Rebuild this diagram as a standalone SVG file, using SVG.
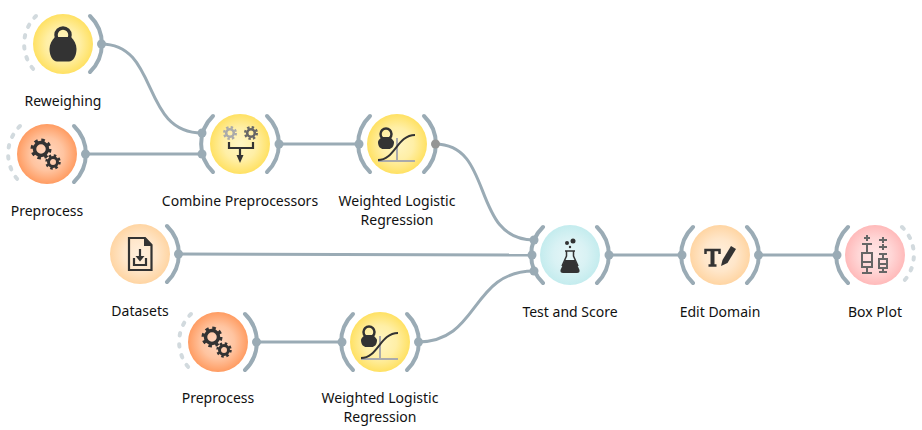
<svg xmlns="http://www.w3.org/2000/svg" xmlns:xlink="http://www.w3.org/1999/xlink" width="922" height="430" viewBox="0 0 922 430">
<style>
text{font-family:"Noto Sans","Open Sans","Liberation Sans",sans-serif;font-size:14px;fill:#111;text-anchor:middle}
.c{fill:none;stroke:#9aabb5;stroke-width:3}
.a{fill:none;stroke:#9aabb5;stroke-width:4;stroke-linecap:round}
.d{fill:none;stroke:#d2dade;stroke-width:4;stroke-linecap:round;stroke-dasharray:2.500 8.600}
.p{fill:#9aabb5}
.pg{fill:#959595}
.k{fill:#333}
.ks{fill:none;stroke:#333}
.gr{fill:none;stroke:#aaa}
.bx{fill:none;stroke:#666;stroke-width:2}
</style>
<defs>
<radialGradient id="y"><stop offset="0" stop-color="#fff6c4"/><stop offset=".55" stop-color="#ffefa6"/><stop offset="1" stop-color="#ffe163"/></radialGradient>
<radialGradient id="r"><stop offset="0" stop-color="#ffd9c2"/><stop offset=".55" stop-color="#ffc4a0"/><stop offset="1" stop-color="#ff9c62"/></radialGradient>
<radialGradient id="o"><stop offset="0" stop-color="#fff0de"/><stop offset=".55" stop-color="#ffe6c9"/><stop offset="1" stop-color="#ffd5a3"/></radialGradient>
<radialGradient id="b"><stop offset="0" stop-color="#e6f6f7"/><stop offset=".55" stop-color="#d9f2f4"/><stop offset="1" stop-color="#c4ecee"/></radialGradient>
<radialGradient id="s"><stop offset="0" stop-color="#ffe6e6"/><stop offset=".55" stop-color="#ffd6d6"/><stop offset="1" stop-color="#ffbaba"/></radialGradient>
<path id="ra" class="a" d="M27-28A39 39 0 0 1 27 28"/>
<path id="la" class="a" d="M-27-28A39 39 0 0 0-27 28"/>
<path id="ld" class="d" d="M-27-28A39 39 0 0 0-27 28"/>
<path id="rd" class="d" d="M27-28A39 39 0 0 1 27 28"/>
<g id="gears">
<circle cx="-6" cy="-5" r="6.500" class="ks" stroke-width="3.500"/>
<circle cx="-6" cy="-5" r="9" class="ks" stroke-width="3" stroke-dasharray="3.500 3.570"/>
<circle cx="6" cy="8" r="4.500" class="ks" stroke-width="3"/>
<circle cx="6" cy="8" r="6.500" class="ks" stroke-width="2.500" stroke-dasharray="2.500 2.600"/>
</g>
<g id="wlr">
<path class="gr" stroke-width="2" d="M0-6V17M-19 17H18"/>
<circle cx="-11" cy="-10" r="5.500" class="ks" stroke-width="2.500"/>
<path class="k" d="M-15-7H-7Q-3-3-3-2C-3 3-6 5-8 5H-14C-16 5-19 3-19-2Q-19-4-15-7Z"/>
<path class="ks" stroke-width="2" d="M-19 16C-2 16 0-9 18-9"/>
</g>
</defs>

<g id="connectors">
<path class="c" d="M101 44C160 44 140 133 202 133"/>
<path class="c" d="M85 154H202"/>
<path class="c" d="M279 144H359"/>
<path class="c" d="M435 144C495 144 470 240 534 240"/>
<path class="c" d="M178 254L532 255"/>
<path class="c" d="M418 342C480 342 470 271 534 271"/>
<path class="c" d="M256 342H342"/>
<path class="c" d="M608 255H682"/>
<path class="c" d="M758 255H837"/>
</g>

<g id="reweighing">
<g transform="translate(63 44)">
<use href="#ld"/><use href="#ra"/>
<circle r="30" fill="url(#y)"/>
<circle cy="-9" r="7" class="ks" stroke-width="3.500"/>
<path class="k" d="M-8-7H8C11-4 13.500 0 13.500 5C13.500 12 10 17.500 6 17.500H-6C-10 17.500-13.500 12-13.500 5C-13.500 0-11-4-8-7Z"/>
<circle cx="38.500" r="4.500" class="p"/>
</g>
<text x="63" y="106">Reweighing</text>
</g>

<g id="preprocess-1">
<g transform="translate(47 154)">
<use href="#ld"/><use href="#ra"/>
<circle r="30" fill="url(#r)"/>
<use href="#gears"/>
<circle cx="38.500" r="4.500" class="p"/>
</g>
<text x="47" y="216">Preprocess</text>
</g>

<g id="combine-preprocessors">
<g transform="translate(240 144)">
<use href="#la"/><use href="#ra"/>
<circle r="30" fill="url(#y)"/>
<circle cx="-10" cy="-11" r="3.800" fill="none" stroke="#aaa" stroke-width="2.600"/>
<circle cx="-10" cy="-11" r="5.800" fill="none" stroke="#aaa" stroke-width="2.400" stroke-dasharray="2.400 2.150"/>
<circle cx="11" cy="-11" r="3.800" fill="none" stroke="#666" stroke-width="2.600"/>
<circle cx="11" cy="-11" r="5.800" fill="none" stroke="#666" stroke-width="2.400" stroke-dasharray="2.400 2.150"/>
<path class="ks" stroke-width="2.200" d="M-11-2V4H13V-2M0 4V14"/>
<path class="k" d="M-3.500 11H3.500L0 19Z"/>
<circle cx="-38" cy="-11" r="4.500" class="p"/>
<circle cx="-38" cy="10" r="4.500" class="p"/>
<circle cx="39" r="4.500" class="p"/>
</g>
<text x="240" y="206">Combine Preprocessors</text>
</g>

<g id="weighted-lr-1">
<g transform="translate(397 144)">
<use href="#la"/><use href="#ra" style="stroke:#959595"/>
<circle r="30" fill="url(#y)"/>
<use href="#wlr"/>
<circle cx="-38" r="4.500" class="p"/>
<circle cx="38.500" r="4.500" class="pg"/>
</g>
<text x="397" y="206">Weighted Logistic</text>
<text x="397" y="225">Regression</text>
</g>

<g id="datasets">
<g transform="translate(140 254)">
<use href="#ra"/>
<circle r="30" fill="url(#o)"/>
<path class="ks" stroke-width="2.200" d="M-11-16H5L11.500-9V16H-11Z"/>
<path class="k" d="M4-16L12-8H4Z"/>
<path class="ks" stroke-width="2.200" d="M-6 4V11H6V4M0-5V4"/>
<path class="k" d="M-4.500 2H4.500L0 7.500Z"/>
<circle cx="38.500" r="4.500" class="p"/>
</g>
<text x="140" y="316">Datasets</text>
</g>

<g id="preprocess-2">
<g transform="translate(218 342)">
<use href="#ld"/><use href="#ra"/>
<circle r="30" fill="url(#r)"/>
<use href="#gears"/>
<circle cx="38.500" r="4.500" class="p"/>
</g>
<text x="218" y="403">Preprocess</text>
</g>

<g id="weighted-lr-2">
<g transform="translate(380 342)">
<use href="#la"/><use href="#ra"/>
<circle r="30" fill="url(#y)"/>
<use href="#wlr"/>
<circle cx="-38" r="4.500" class="p"/>
<circle cx="38.500" r="4.500" class="p"/>
</g>
<text x="380" y="403">Weighted Logistic</text>
<text x="380" y="422">Regression</text>
</g>

<g id="test-and-score">
<g transform="translate(570 255)">
<use href="#la"/><use href="#ra"/>
<circle r="30" fill="url(#b)"/>
<circle cx="-3" cy="-12" r="2" class="k"/>
<circle cx="3" cy="-14" r="2.500" class="k"/>
<circle cy="-8" r="1.200" class="k"/>
<path class="ks" stroke-width="1.500" d="M-3.500-4V1L-8 11M3.500-4V1L8 11M-5-4H5"/>
<path class="k" d="M-5 5H5L9.500 15Q10 18 7 18H-7Q-10 18-9.500 15Z"/>
<circle cx="-36" cy="-15" r="4.500" class="p"/>
<circle cx="-38" r="4.500" class="p"/>
<circle cx="-36" cy="16" r="4.500" class="p"/>
<circle cx="39" r="4.500" class="p"/>
</g>
<text x="570" y="317">Test and Score</text>
</g>

<g id="edit-domain">
<g transform="translate(720 255)">
<use href="#la"/><use href="#ra"/>
<circle r="30" fill="url(#o)"/>
<path class="ks" stroke-width="2.500" d="M-14.500-1V-5H-0.500V-1"/>
<path class="ks" stroke-width="4" d="M-7.500-5V10"/>
<path class="ks" stroke-width="2.500" d="M-11.500 10.500H-3.500"/>
<path class="k" d="M1 11L2.500 5L11-9L16-6L7.500 8Z"/>
<circle cx="-38" r="4.500" class="p"/>
<circle cx="38.500" r="4.500" class="p"/>
</g>
<text x="720" y="317">Edit Domain</text>
</g>

<g id="box-plot">
<g transform="translate(875 255)">
<use href="#la"/><use href="#rd"/>
<circle r="30" fill="url(#s)"/>
<path class="bx" d="M-11-17H-5M-8-20V-14M-13-11H-3M-8-11V-2M-13-2H-3V12H-13ZM-13 7H-3M-8 12V18M-13 18H-3"/>
<path class="bx" d="M4-15H12M8-18V-12M4-8H12M8-11V-5M4-1H12M8-1V4M4 4H12V13H4ZM4 9H12M8 13V17M4 17H12"/>
<circle cx="-38" r="4.500" class="p"/>
</g>
<text x="875" y="317">Box Plot</text>
</g>
</svg>
